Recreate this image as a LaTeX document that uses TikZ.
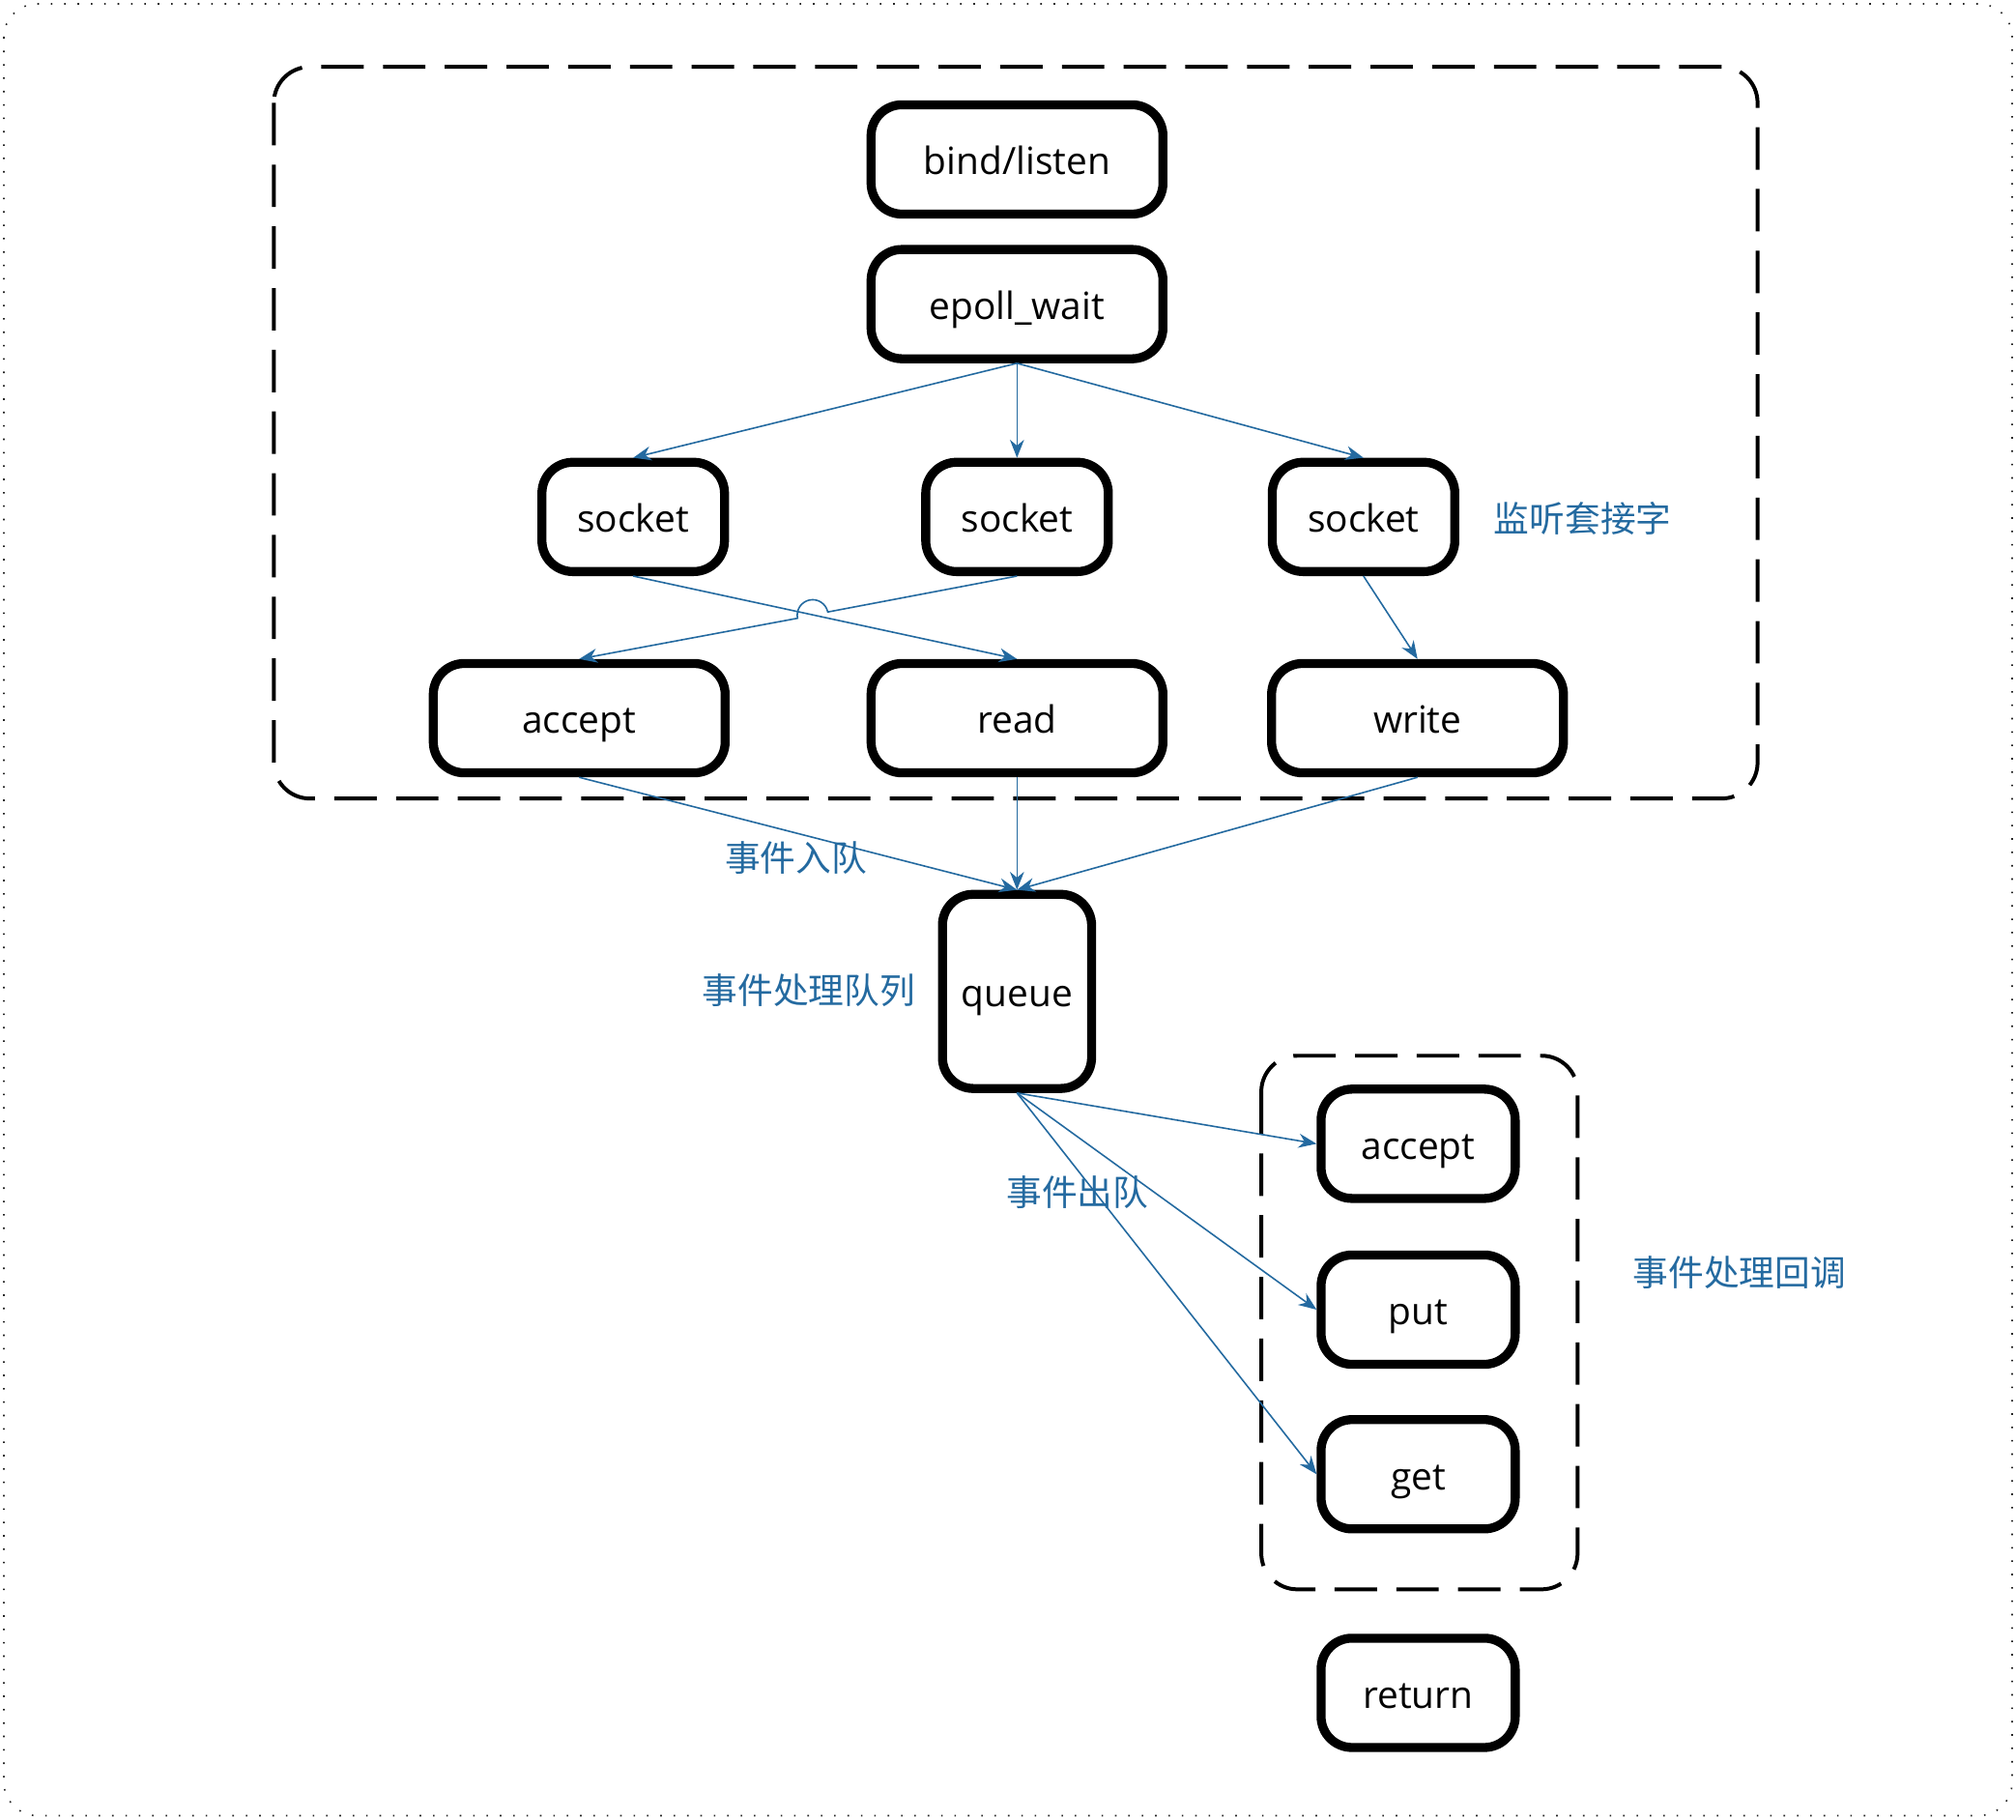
\documentclass[tikz,border=0pt]{standalone}
\usepackage{fontspec}
\setmainfont{Open Sans}
\newfontfamily\cjk{Noto Sans CJK SC}
\usetikzlibrary{arrows.meta,calc}
\definecolor{eblue}{RGB}{36,106,160}
\tikzset{
 box/.style={draw, line width=3.5pt, rounded corners=12pt, inner sep=0pt, align=center,
   text height=12pt, text depth=0pt, font=\fontsize{14.6}{16}\selectfont},
 wide/.style={box, minimum width=113.5pt, minimum height=42.5pt},
 sock/.style={box, minimum width=71pt, minimum height=42.5pt},
 cb/.style={box, minimum width=75.5pt, minimum height=42.5pt},
 qbox/.style={box, minimum width=58pt, minimum height=75.5pt},
 arr/.style={draw=eblue, line width=0.6pt, -{Stealth[length=7pt,width=5.5pt]}},
 lbl/.style={text=eblue, font=\cjk\fontsize{13.8}{15}\selectfont, inner sep=0pt},
 grp/.style={draw, line width=1.5pt, dash pattern=on 16.5pt off 7.5pt, rounded corners=14pt},
 frame/.style={draw=black!85, line width=0.6pt, dash pattern=on 0.6pt off 4.6pt, rounded corners=13pt},
}
\begin{document}
\begin{tikzpicture}[x=0.5pt,y=-0.5pt]
\useasboundingbox (0,0) rectangle (1568,1415);
\draw[frame] (3,3) rectangle (1565,1412);
\draw[grp] (213,52) rectangle (1367,621);
\draw[grp] (981,821) rectangle (1227,1236);

\node[wide] (bl) at (791,124) {bind/listen};
\node[wide] (ew) at (791,236.5) {epoll\_wait};
\node[sock] (s1) at (492.5,402) {socket};
\node[sock] (s2) at (791,402) {socket};
\node[sock] (s3) at (1060.5,402) {socket};
\node[wide] (ac) at (450.5,558.5) {accept};
\node[wide] (rd) at (791,558.5) {read};
\node[wide] (wr) at (1102.5,558.5) {write};
\node[qbox] (q) at (791,771) {queue};
\node[cb] (ca) at (1103,889.5) {accept};
\node[cb] (cp) at (1103,1018.5) {put};
\node[cb] (cg) at (1103,1146.5) {get};
\node[cb] (rt) at (1103,1316.5) {return};

\node[lbl] (l1) at (1231,403) {监听套接字};
\node[lbl] (l2) at (619,667) {事件入队};
\node[lbl] (l3) at (629,770) {事件处理队列};
\node[lbl] (l4) at (838,927) {事件出队};
\node[lbl] (l5) at (1353,990) {事件处理回调};

\draw[arr] (ew.south) -- (s1.north);
\draw[arr] (ew.south) -- (s2.north);
\draw[arr] (ew.south) -- (s3.north);
\draw[arr] (s1.south) -- (rd.north);
\coordinate (X) at (intersection of s1.south--rd.north and s2.south--ac.north);
\draw[arr] (s2.south) -- ($(X)!6pt!(s2.south)$) arc[start angle=11.7, end angle=191.7, radius=6pt] -- (ac.north);
\draw[arr] (s3.south) -- (wr.north);
\draw[arr] (ac.south) -- (q.north);
\draw[arr] (rd.south) -- (q.north);
\draw[arr] (wr.south) -- (q.north);
\draw[arr] (q.south) -- (ca.west);
\draw[arr] (q.south) -- (cp.west);
\draw[arr] (q.south) -- (cg.west);
\end{tikzpicture}
\end{document}
